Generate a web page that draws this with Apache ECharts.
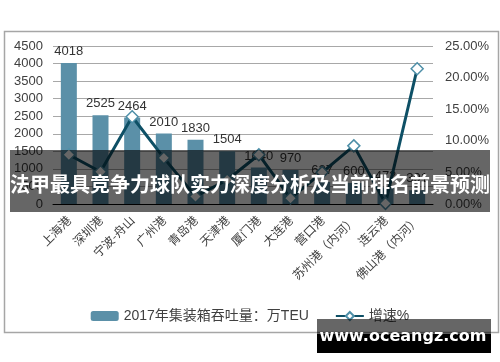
<!DOCTYPE html>
<html><head><meta charset="utf-8">
<script src="https://cdn.jsdelivr.net/npm/echarts@6/dist/echarts.min.js"></script>
<style>html,body{margin:0;padding:0;background:#fff}#c{width:500px;height:362px}</style>
</head><body><div id="c"></div>
<script>
const categories = ['上海港','深圳港','宁波-舟山','广州港','青岛港','天津港','厦门港','大连港','营口港','苏州港（内河）','连云港','佛山港（内河）'];
const throughput = [4018,2525,2464,2010,1830,1504,1040,970,627,600,472,391];
const growth = [7.8,5.1,13.8,7.3,1.2,3.8,7.8,0.9,5.0,9.2,0.1,21.4];
const seriesNames = ['2017年集装箱吞吐量：万TEU','增速%'];
const leftAxis = {min:0,max:4500,interval:500};
const rightAxis = {min:0,max:25,interval:5};
const bannerText = '法甲最具竞争力球队实力深度分析及当前排名前景预测';
const watermark = 'www.oceangz.com';

const FONT = '"Liberation Sans","Noto Sans CJK SC",sans-serif';
const chart = echarts.init(document.getElementById('c'), null, {renderer:'canvas'});
chart.setOption({
  animation:false,
  textStyle:{fontFamily:FONT},
  grid:{left:53,right:67,top:46,bottom:158},
  legend:{
    data:seriesNames, left:'center', top:304, itemWidth:28, itemHeight:10, itemGap:26,
    textStyle:{fontSize:14,color:'#404040',fontFamily:FONT}
  },
  xAxis:{
    type:'category', data:categories,
    axisLine:{lineStyle:{color:'#000',width:1}},
    axisTick:{show:false},
    axisLabel:{rotate:45,interval:0,fontSize:12,color:'#404040',margin:14,fontFamily:'"Noto Sans CJK SC",sans-serif'}
  },
  yAxis:[
    {type:'value',min:leftAxis.min,max:leftAxis.max,interval:leftAxis.interval,
     axisLine:{show:false},axisTick:{show:false},
     axisLabel:{fontSize:13,color:'#404040',margin:10,formatter:v=>String(v)},
     splitLine:{lineStyle:{color:'#a8a8a8',width:1}}},
    {type:'value',min:rightAxis.min,max:rightAxis.max,interval:rightAxis.interval,position:'right',
     axisLine:{show:false},axisTick:{show:false},
     axisLabel:{fontSize:13,color:'#404040',margin:12,formatter:v=>v.toFixed(2)+'%'},
     splitLine:{show:false}}
  ],
  series:[
    {name:seriesNames[0],type:'bar',data:throughput,barWidth:16,
     itemStyle:{color:'#5b90a8'},
     label:{show:true,position:'top',distance:5,fontSize:13,color:'#333'}},
    {name:seriesNames[1],type:'line',yAxisIndex:1,data:growth,
     lineStyle:{color:'#0e5066',width:3},
     symbol:'diamond',symbolSize:12,
     itemStyle:{color:'#fff',borderColor:'#4e8fa8',borderWidth:1.5}}
  ],
  graphic:[
    {type:'rect',z:-1,shape:{x:4.5,y:31.5,width:494,height:301},style:{fill:'none',stroke:'#a6a6a6',lineWidth:1.5}},
    {type:'rect',z:100,shape:{x:10,y:150,width:480,height:62},style:{fill:'rgba(0,0,0,0.6)'}},
    {type:'text',z:101,x:250,y:184,style:{text:bannerText,fill:'#fff',font:'bold 20px "Noto Sans CJK SC",sans-serif',textAlign:'center',textVerticalAlign:'middle'}},
    {type:'rect',z:100,shape:{x:317,y:319,width:174,height:15},style:{fill:'rgba(0,0,0,0.6)'}},
    {type:'rect',z:100,shape:{x:317,y:334,width:174,height:19},style:{fill:'#000'}},
    {type:'text',z:101,x:403,y:337,style:{text:watermark,fill:'#fff',font:'bold 16px "DejaVu Sans","Liberation Sans",sans-serif',textAlign:'center',textVerticalAlign:'middle'}}
  ]
});
</script></body></html>
